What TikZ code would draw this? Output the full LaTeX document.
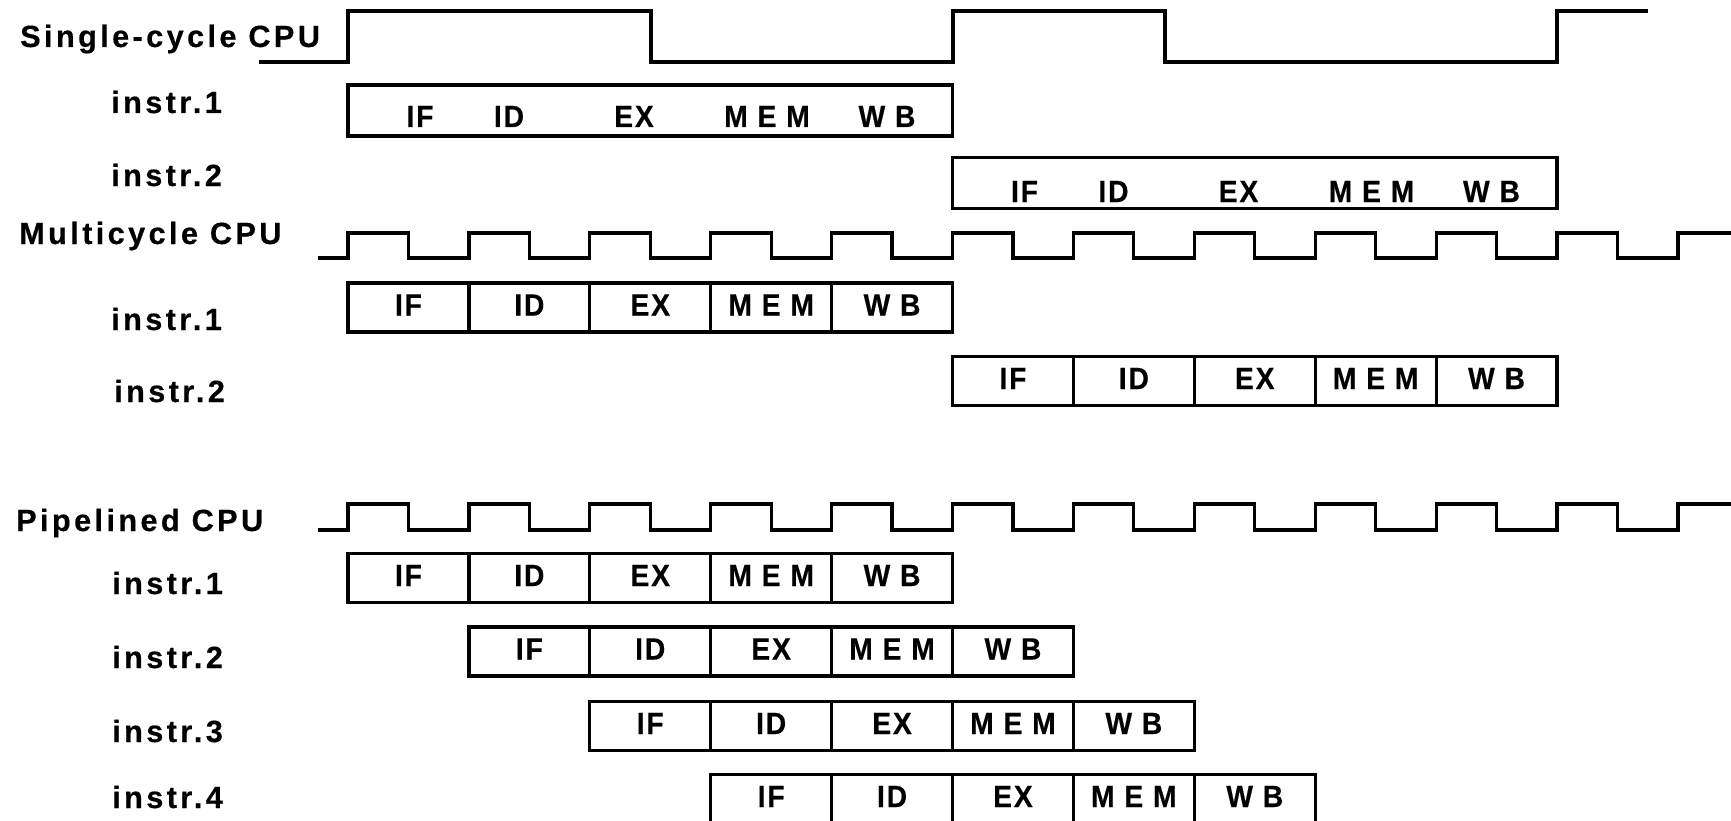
\documentclass[tikz,border=0pt]{standalone}
\usepackage{fontspec}
\newfontfamily\diagfont{Liberation Sans}[LetterSpace=11, FakeBold=0.4]
\newfontfamily\stagefont{Liberation Sans}[LetterSpace=6, FakeStretch=0.92, FakeBold=0.4]
\newcommand\spaced[1]{{\addfontfeature{LetterSpace=32}#1}}
\begin{document}
\def\P{120.9}
\def\Xo{348}
\begin{tikzpicture}[x=1pt,y=-1pt,
  txt/.style={inner sep=0, font={\diagfont\bfseries\fontsize{30.7}{36}\selectfont}},
  stxt/.style={inner sep=0, font={\stagefont\bfseries\fontsize{30.7}{36}\selectfont}},
  lbl/.style={txt, anchor=base west},
  word/.style={stxt, anchor=base},
  wave/.style={line width=3.2, line join=miter},
  stage/.style={stxt, draw, line width=3.2, minimum width=\P, minimum height=49,
    text height=22, text depth=6},
  longbox/.style={draw, line width=3.2, minimum width={5*\P}, minimum height=51, inner sep=0}]
\useasboundingbox (0,0) rectangle (1731,821);

% ---------------- single-cycle ----------------
\node[lbl] (lsc) at (20,47) {Single-cycle CPU};
\node[lbl] (lsc1) at (111,113) {instr.1};
\node[lbl] (lsc2) at (111,186) {instr.2};
\draw[wave] (259,62) -- (348,62) -- (348,11) -- (651,11) -- (651,62) -- (953,62)
  -- (953,11) -- (1165,11) -- (1165,62) -- (1557,62) -- (1557,11) -- (1648,11);
\node[longbox] (sc1) at ({\Xo+2.5*\P},110.5) {};
\node[longbox] (sc2) at ({\Xo+7.5*\P},183) {};
\foreach \t/\cx [count=\i] in {IF/72,ID/161,EX/286,\spaced{MEM}/419,\spaced{WB}/539} {
  \node[word] (sc1t\i) at ({\Xo+\cx},127) {\t};
  \node[word] (sc2t\i) at ({\Xo+5*\P+\cx},202) {\t};
}

% ---------------- multicycle ----------------
\node[lbl] (lmc) at (19,244) {Multicycle CPU};
\node[lbl] (lmc1) at (111,330) {instr.1};
\node[lbl] (lmc2) at (114,402) {instr.2};
\draw[wave] (318,258)
  \foreach \k in {0,...,10} { -- ({\Xo+\k*\P},258) -- ({\Xo+\k*\P},233)
     -- ({\Xo+\k*\P+\P/2},233) -- ({\Xo+\k*\P+\P/2},258) }
  -- ({\Xo+11*\P},258) -- ({\Xo+11*\P},233) -- (1731,233);
\foreach \t [count=\i from 0] in {IF,ID,EX,\spaced{MEM},\spaced{WB}} {
  \node[stage] (mc1s\i) at ({\Xo+(\i+0.5)*\P},307.5) {\t};
  \node[stage] (mc2s\i) at ({\Xo+(\i+5.5)*\P},381) {\t};
}

% ---------------- pipelined ----------------
\node[lbl] (lpc) at (16,531) {Pipelined CPU};
\draw[wave] (318,530)
  \foreach \k in {0,...,10} { -- ({\Xo+\k*\P},530) -- ({\Xo+\k*\P},504)
     -- ({\Xo+\k*\P+\P/2},504) -- ({\Xo+\k*\P+\P/2},530) }
  -- ({\Xo+11*\P},530) -- ({\Xo+11*\P},504) -- (1731,504);
\foreach \r/\cy/\by in {1/578/594,2/651.5/668,3/726/742,4/799/808} {
  \node[lbl] (lp\r) at (112,\by) {instr.\r};
  \foreach \t [count=\i from 0] in {IF,ID,EX,\spaced{MEM},\spaced{WB}} {
    \node[stage] (p\r s\i) at ({\Xo+(\i+\r-0.5)*\P},\cy) {\t};
  }
}
\end{tikzpicture}
\end{document}
